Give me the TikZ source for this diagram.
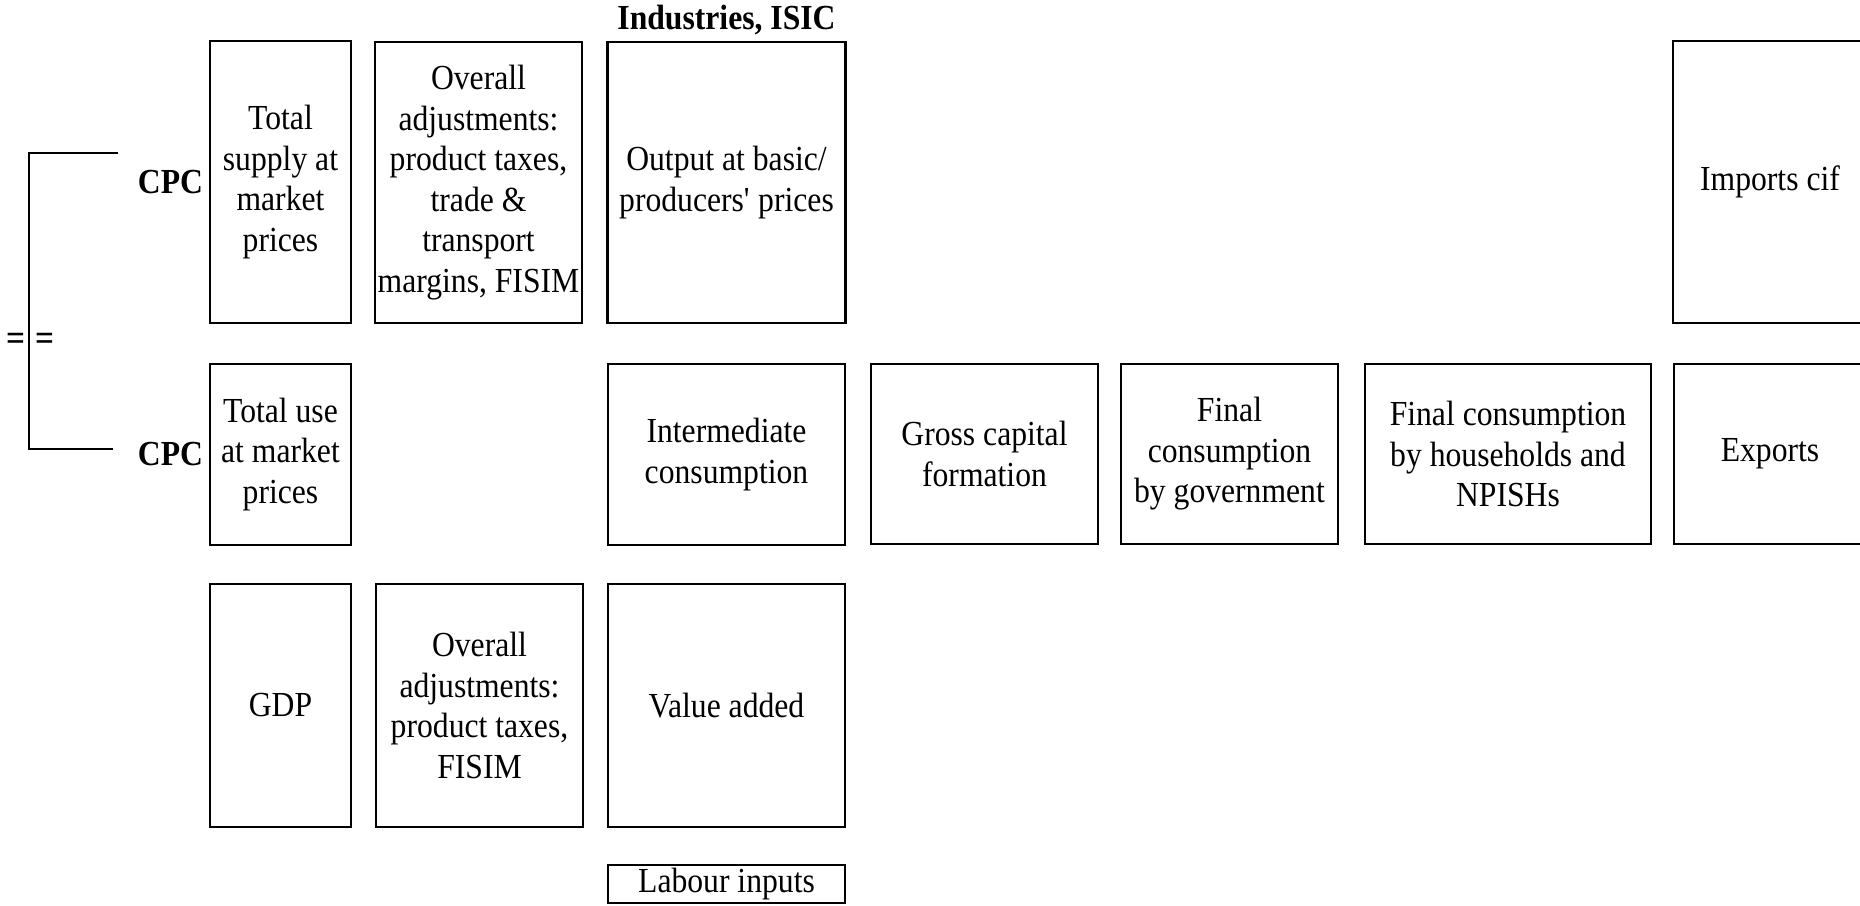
\documentclass[tikz,border=0pt]{standalone}
\usepackage{fontspec}
\setmainfont{Liberation Serif}[FakeStretch=0.9]
\usetikzlibrary{positioning}

\begin{document}
\begin{tikzpicture}[x=0.01cm, y=-0.01cm,
  cell/.style={draw, line width=0.7pt, align=center, inner sep=0pt,
    font=\fontsize{10}{11.5}\selectfont},
  tag/.style={inner sep=0pt, font=\fontsize{10}{11.5}\selectfont\bfseries},
  sign/.style={inner sep=0pt, font=\fontsize{10.5}{11.5}\selectfont\bfseries}]
\useasboundingbox (0,0) rectangle (1860,905);
\clip (0,0) rectangle (1860,905);

% supply row
\node[cell, minimum width=1.41cm, minimum height=2.82cm] (supply) at (280.5,182) {Total\\supply at\\market\\prices};
\node[cell, minimum width=2.07cm, minimum height=2.81cm] (adjTop) at (478.5,182.5) {Overall\\adjustments:\\product taxes,\\trade \&\\transport\\margins, FISIM};
\node[cell, minimum width=2.38cm, minimum height=2.81cm] (output) at (726.5,182.5) {Output at basic/\\producers\textquotesingle{} prices};
\node[cell, minimum width=1.94cm, minimum height=2.82cm] (imports) at (1770,182) {Imports cif};
\node[tag, above=0.05cm of output] (isic) {Industries, ISIC};
\node[tag, left=0.05cm of supply] (cpcTop) {CPC};

% use row
\node[cell, minimum width=1.41cm, minimum height=1.81cm] (use) at (280.5,454.5) {Total use\\at market\\prices};
\node[cell, minimum width=2.37cm, minimum height=1.81cm] (inter) at (726.5,454.5) {Intermediate\\consumption};
\node[cell, minimum width=2.27cm, minimum height=1.80cm] (gcf) at (984.5,454) {Gross capital\\formation};
\node[cell, minimum width=2.17cm, minimum height=1.80cm] (govt) at (1229.5,454) {Final\\consumption\\by government};
\node[cell, minimum width=2.86cm, minimum height=1.80cm] (hhold) at (1508,454) {Final consumption\\by households and\\NPISHs};
\node[cell, minimum width=1.92cm, minimum height=1.80cm] (exports) at (1770,454) {Exports};
\node[tag, left=0.05cm of use] (cpcBot) {CPC};

% value added row
\node[cell, minimum width=1.41cm, minimum height=2.43cm] (gdp) at (280.5,705.5) {GDP};
\node[cell, minimum width=2.07cm, minimum height=2.43cm] (adjBot) at (479.5,705.5) {Overall\\adjustments:\\product taxes,\\FISIM};
\node[cell, minimum width=2.37cm, minimum height=2.43cm] (va) at (726.5,705.5) {Value added};
\node[cell, minimum width=2.37cm, minimum height=0.38cm] (labour) at (726.5,884) {Labour inputs};

% bracket
\coordinate (topEnd) at (118,153);
\coordinate (topCorner) at (29,153);
\coordinate (botCorner) at (29,449);
\coordinate (botEnd) at (113,449);
\draw[line width=0.7pt] (topEnd) -- (topCorner) -- (botCorner) -- (botEnd);
\node[sign] (eqLeft) at (16,342) {=};
\node[sign] (eqRight) at (45,342) {=};
\end{tikzpicture}
\end{document}
